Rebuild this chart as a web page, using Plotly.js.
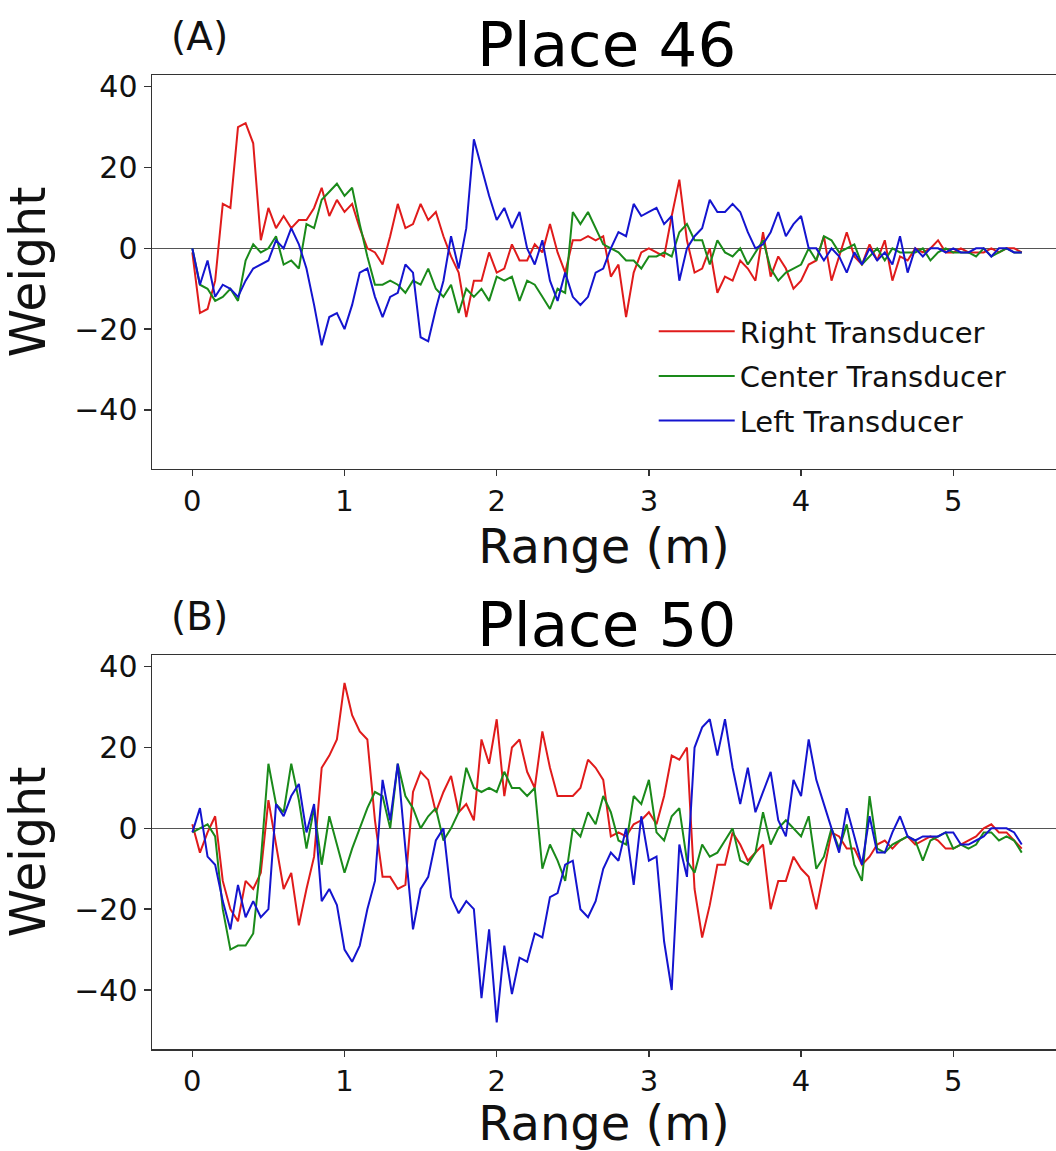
<!DOCTYPE html>
<html>
<head>
<meta charset="utf-8">
<script src="https://cdn.plot.ly/plotly-3.0.1.min.js"></script>
<style>html,body{margin:0;padding:0;background:#fff;overflow:hidden}</style>
</head>
<body>
<div id="chart" style="width:1056px;height:1151px"></div>
<script>
// Sample spacing along range (m): readings every 0.05 m from 0 to 5.45 m
const STEP_M = 0.05;

// Panel (A) Place 46
const rightTop = [
  -1, -16, -15, -8, 11, 10, 30, 31, 26, 2,
  10, 5, 8, 5, 7, 7, 10, 15, 8, 12,
  9, 11, 5, 0, -1, -4, 3, 11, 5, 6,
  11, 7, 9, 3, -2, -6, -17, -8, -8, -1,
  -6, -5, 1, -3, -3, 1, -1, 6, -1, -6,
  2, 2, 3, 2, 3, -7, -4, -17, -6, -1,
  0, -1, -2, 8, 17, 2, -6, -5, 0, -11,
  -7, -8, -3, -5, -8, 4, -7, -2, -5, -10,
  -8, -4, -3, 3, -8, -2, 4, -2, -4, 1,
  -3, 2, -8, -2, -3, 0, -1, 0, 2, -1,
  -1, 0, -1, -1, -1, 0, -1, 0, 0, -1
];
const centerTop = [
  0, -9, -10, -13, -12, -10, -13, -3, 1, -1,
  0, 3, -4, -3, -5, 6, 5, 12, 14, 16,
  13, 15, 6, -2, -9, -9, -8, -9, -11, -8,
  -9, -5, -10, -12, -9, -16, -10, -12, -10, -13,
  -7, -8, -7, -13, -8, -9, -12, -15, -10, -11,
  9, 6, 9, 5, 1, 0, -1, -3, -3, -5,
  -2, -2, -1, -2, 4, 6, 2, 2, -4, 2,
  -1, -2, 0, -4, -1, 2, -5, -8, -6, -5,
  -4, 0, -3, 3, 2, -1, 0, 1, -4, -2,
  0, -3, 0, -1, -1, -1, 0, -3, -1, 0,
  -1, -1, -1, -2, 0, -2, -1, 0, -1, -1
];
const leftTop = [
  0, -9, -3, -12, -9, -10, -12, -8, -5, -4,
  -3, 2, 0, 5, 1, -5, -14, -24, -17, -16,
  -20, -14, -6, -5, -12, -17, -12, -11, -4, -6,
  -22, -23, -15, -8, 3, -5, 5, 27, 20, 13,
  7, 10, 5, 9, 0, -4, 2, -8, -13, -6,
  -12, -14, -12, -6, -5, 0, 4, 3, 11, 8,
  9, 10, 6, 8, -8, 0, 3, 5, 12, 9,
  9, 11, 9, 4, 0, 1, 4, 9, 3, 6,
  8, 0, 0, -3, 0, -2, -6, -1, -4, 0,
  -3, -1, -4, 3, -6, 0, -2, 0, 0, -1,
  0, -1, -1, 0, 0, -2, 0, 0, -1, -1
];

// Panel (B) Place 50
const rightBottom = [
  1, -6, -1, 3, -13, -20, -23, -13, -15, -11,
  7, -4, -15, -11, -24, -15, -7, 15, 18, 22,
  36, 28, 24, 22, 2, -12, -12, -15, -14, 9,
  14, 12, 4, 9, 13, 4, 6, 2, 22, 16,
  27, 8, 20, 22, 14, 10, 24, 15, 8, 8,
  8, 10, 17, 15, 12, -2, -1, -2, 1, 2,
  4, 1, 8, 18, 17, 20, -15, -27, -19, -9,
  -9, -1, -4, -8, -6, -4, -20, -13, -13, -7,
  -10, -12, -20, -10, -1, -2, -5, -5, -9, -7,
  -4, -3, -5, -3, -2, -4, -3, -2, -3, -5,
  -5, -4, -3, -2, 0, 1, -1, -1, -3, -5
];
const centerBottom = [
  -1, 0, 1, -2, -20, -30, -29, -29, -26, -8,
  16, 6, 4, 16, 7, -5, 5, -9, 3, -4,
  -11, -5, 0, 5, 9, 8, 0, 16, 8, 5,
  0, 3, 5, -3, 0, 4, 15, 10, 9, 10,
  9, 14, 10, 10, 8, 10, -10, -4, -8, -13,
  0, -2, 4, 1, 8, 4, -3, -4, 8, 6,
  12, -1, -3, 3, 5, -8, -11, -4, -7, -6,
  -3, 0, -8, -9, -6, 4, -4, 0, 2, 0,
  -2, 3, -10, -7, 0, -5, 1, -9, -13, 8,
  -5, -6, -4, -3, -2, -3, -8, -3, -2, -1,
  -5, -4, -5, -4, -1, -1, -3, -2, -3, -6
];
const leftBottom = [
  -1, 5, -7, -9, -18, -25, -14, -22, -18, -22,
  -20, 6, 3, 8, 11, -1, 6, -18, -15, -19,
  -30, -33, -29, -20, -13, 12, 2, 16, -5, -25,
  -15, -12, -3, 0, -17, -21, -18, -20, -42, -25,
  -48, -29, -41, -32, -33, -26, -27, -17, -16, -9,
  -8, -20, -22, -18, -10, -6, -8, 0, -14, 3,
  -8, -7, -28, -40, -4, -12, 20, 25, 27, 18,
  27, 15, 6, 15, 4, 9, 14, 2, -2, 12,
  8, 22, 12, 6, 0, -6, 5, -2, -9, 3,
  -6, -6, -1, 3, -2, -3, -2, -2, -2, -1,
  -1, -4, -4, -3, -2, 0, 0, 0, -1, -4
];

const rangeM = rightTop.map((_, i) => +(i * STEP_M).toFixed(2));

const seriesNames = ['Right Transducer', 'Center Transducer', 'Left Transducer'];
const xTicks = [0, 1, 2, 3, 4, 5];
const yTicks = [-40, -20, 0, 20, 40];
const panelTitles = ['Place 46', 'Place 50'];
const panelLabels = ['(A)', '(B)'];

const colors = ['#e01b1b', '#1a8a1a', '#1414cf'];
const LW = 2;

function mk(y, idx, xa, ya, legend) {
  return {
    type: 'scatter', mode: 'lines', x: rangeM, y: y,
    name: seriesNames[idx], xaxis: xa, yaxis: ya,
    line: { color: colors[idx], width: LW },
    showlegend: legend, legendgroup: 'g' + idx
  };
}

const data = [
  mk(rightTop, 0, 'x', 'y', true),
  mk(centerTop, 1, 'x', 'y', true),
  mk(leftTop, 2, 'x', 'y', true),
  mk(rightBottom, 0, 'x2', 'y2', false),
  mk(centerBottom, 1, 'x2', 'y2', false),
  mk(leftBottom, 2, 'x2', 'y2', false)
];

const AX = '#333';
function xax(anchor) {
  return {
    anchor: anchor, domain: [0, 1], range: [-0.265, 5.675],
    tickmode: 'array', tickvals: xTicks, ticktext: xTicks.map(String),
    ticks: 'outside', ticklen: 6, tickwidth: 1.5, tickcolor: AX,
    showline: true, linecolor: AX, linewidth: 1.5, mirror: true,
    showgrid: false, zeroline: false,
    tickfont: { family: 'DejaVu Sans', size: 29, color: '#111' },
    title: { text: 'Range (m)', font: { family: 'DejaVu Sans', size: 48, color: '#111' }, standoff: 2 },
    automargin: false
  };
}
function yax(anchor, domain) {
  return {
    anchor: anchor, domain: domain, range: [-54.6, 42.9],
    tickmode: 'array', tickvals: yTicks, ticktext: yTicks.map(v => v < 0 ? '\u2212' + Math.abs(v) : String(v)),
    ticks: 'outside', ticklen: 7, tickwidth: 1.5, tickcolor: AX,
    showline: true, linecolor: AX, linewidth: 1.5, mirror: false,
    showgrid: false, zeroline: true, zerolinecolor: '#555', zerolinewidth: 1.6,
    tickfont: { family: 'DejaVu Sans', size: 30, color: '#111' },
    title: { text: 'Weight', font: { family: 'DejaVu Sans', size: 49, color: '#111' }, standoff: 14 },
    automargin: false
  };
}

const layout = {
  width: 1056, height: 1151,
  margin: { l: 152, r: 0, t: 75, b: 102, pad: 0 },
  paper_bgcolor: '#fff', plot_bgcolor: '#fff',
  font: { family: 'DejaVu Sans', color: '#111' },
  xaxis: xax('y'),
  yaxis: yax('x', [0.5955, 1]),
  xaxis2: xax('y2'),
  yaxis2: yax('x2', [0, 0.4045]),
  showlegend: true,
  legend: {
    x: 0.555, y: 0.763, xanchor: 'left', yanchor: 'top',
    font: { family: 'DejaVu Sans', size: 29, color: '#111' },
    bgcolor: 'rgba(255,255,255,0)', borderwidth: 0,
    itemwidth: 76, tracegroupgap: 4, traceorder: 'grouped'
  },
  annotations: [
    { text: panelTitles[0], xref: 'paper', yref: 'paper', x: 0.503, y: 1.0318, xanchor: 'center', yanchor: 'middle', showarrow: false, font: { family: 'DejaVu Sans', size: 61, color: '#000' } },
    { text: panelTitles[1], xref: 'paper', yref: 'paper', x: 0.503, y: 0.4363, xanchor: 'center', yanchor: 'middle', showarrow: false, font: { family: 'DejaVu Sans', size: 61, color: '#000' } },
    { text: panelLabels[0], xref: 'paper', yref: 'paper', x: 0.052, y: 1.040, xanchor: 'center', yanchor: 'middle', showarrow: false, font: { family: 'DejaVu Sans', size: 39, color: '#111' } },
    { text: panelLabels[1], xref: 'paper', yref: 'paper', x: 0.052, y: 0.4445, xanchor: 'center', yanchor: 'middle', showarrow: false, font: { family: 'DejaVu Sans', size: 39, color: '#111' } }
  ]
};

Plotly.newPlot('chart', data, layout, { staticPlot: true, displayModeBar: false });
</script>
</body>
</html>
